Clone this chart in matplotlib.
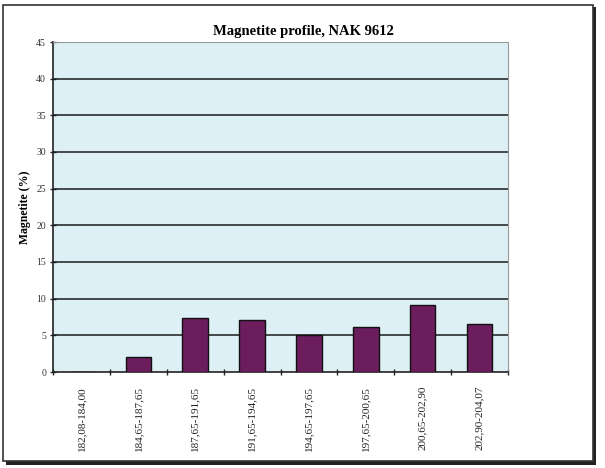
import matplotlib
matplotlib.use("Agg")
import matplotlib.pyplot as plt
from matplotlib.patches import Rectangle
import numpy as np

categories = ["182,08-184,00", "184,65-187,65", "187,65-191,65", "191,65-194,65",
              "194,65-197,65", "197,65-200,65", "200,65-202,90", "202,90-204,07"]
values = [0.0, 2.1, 7.3, 7.1, 5.0, 6.1, 9.1, 6.6]
yticks = [0, 5, 10, 15, 20, 25, 30, 35, 40, 45]

plt.rcParams['font.family'] = ['Liberation Serif', 'DejaVu Serif']

fig = plt.figure(figsize=(6.05, 4.68), dpi=100)
fig.patch.set_facecolor('white')

# outer frame with shadow
W, H = 605, 468
fig.patches.append(Rectangle((6 / W, 1 - 465 / H), 590 / W, 458 / H, transform=fig.transFigure,
                             facecolor='#222222', edgecolor='none', zorder=-2))
fig.patches.append(Rectangle((3 / W, 1 - 461 / H), 590 / W, 456 / H, transform=fig.transFigure,
                             facecolor='white', edgecolor='#333333', linewidth=1.2, zorder=-1))

ax = fig.add_axes([53 / W, 1 - 372 / H, 455 / W, 330 / H])
ax.set_zorder(5)
ax.set_facecolor('#ddf0f6')
x = np.arange(len(categories))
ax.bar(x, values, width=0.45, color='#6b1d5e', edgecolor='#111111', linewidth=1.0, zorder=3)

ax.set_xlim(-0.5, len(categories) - 0.5)
ax.set_ylim(0, 45)
ax.set_yticks(yticks)
ax.set_yticklabels([str(t) for t in yticks], fontsize=7, color='#333333')
for t in yticks[1:-1]:
    ax.axhline(t, color='#1a1a1a', linewidth=1.1, zorder=2)

ax.set_xticks(x)
ax.set_xticklabels(categories, rotation=90, fontsize=8, color='#222222')
ax.tick_params(axis='x', which='major', length=0, pad=10)
ax.set_xticks(np.arange(-0.5, len(categories), 1.0), minor=True)
ax.tick_params(axis='x', which='minor', length=4, direction='inout', width=1.0, color='#222222')
ax.tick_params(axis='y', length=4, direction='inout', width=1.0, color='#222222', pad=3)

for s in ['top', 'right']:
    ax.spines[s].set_color('#999999')
    ax.spines[s].set_linestyle((0, (2, 1)))
    ax.spines[s].set_linewidth(0.8)
for s in ['left', 'bottom']:
    ax.spines[s].set_color('#222222')
    ax.spines[s].set_linewidth(1.2)

ax.set_ylabel('Magnetite (%)', fontsize=8.5, fontweight='bold', labelpad=4)
fig.text(303 / W, 1 - 31 / H, 'Magnetite profile, NAK 9612', ha='center', va='center',
         fontsize=10.5, fontweight='bold')

fig.savefig('out.png', dpi=100, facecolor='white')
